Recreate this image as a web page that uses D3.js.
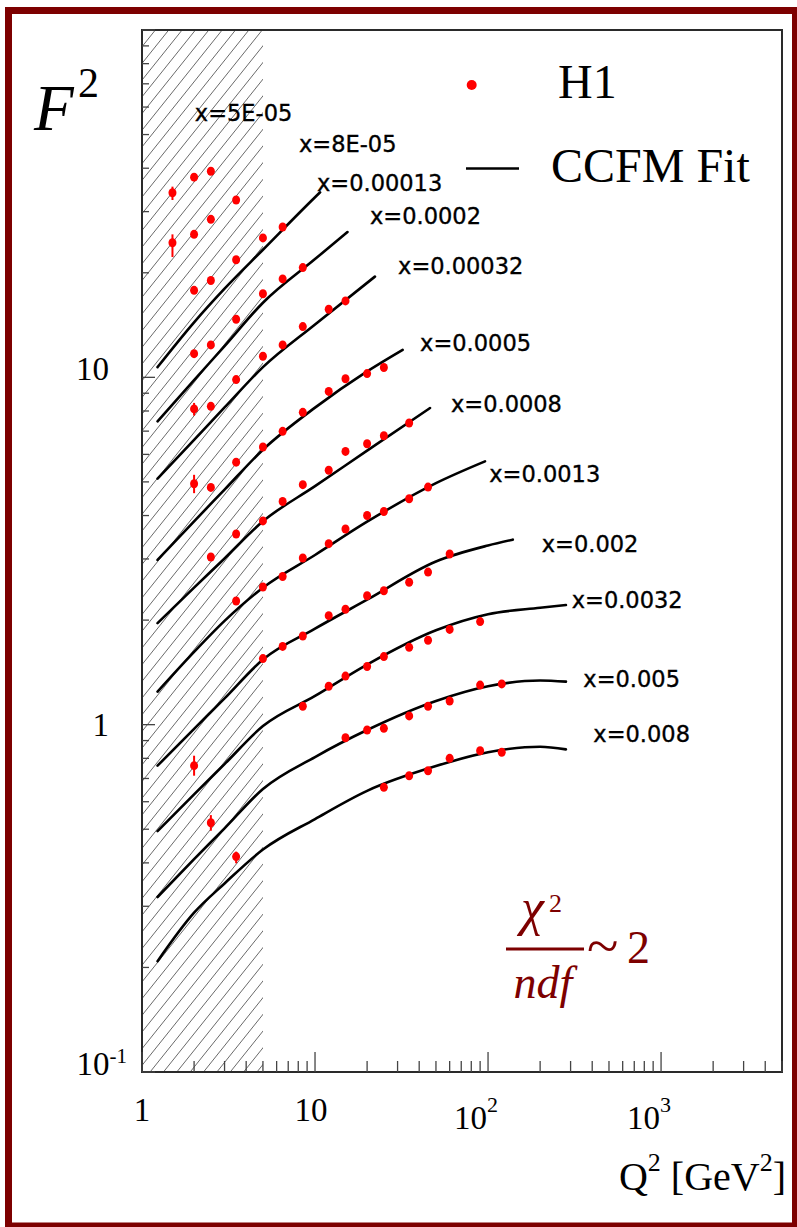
<!DOCTYPE html>
<html>
<head>
<meta charset="utf-8">
<script src="https://cdn.jsdelivr.net/npm/d3@7"></script>
<style>
    body { margin: 0; background: #ffffff; }
    svg { display: block; }
</style>
</head>
<body>
<div id="f2_graph"></div>
<script>

// H1 points, one array per x bin: [Q2, F2]
var h1_5E05 = [[1.5, 34.0], [2, 37.7], [2.5, 39.2]];
var h1_8E05 = [[1.5, 24.4], [2, 25.8], [2.5, 28.5], [3.5, 32.4]];
var h1_00013 = [[2, 17.8], [2.5, 19.0], [3.5, 21.8], [5, 25.2], [6.5, 27.1]];
var h1_0002 = [[2, 11.7], [2.5, 12.4], [3.5, 14.7], [5, 17.4], [6.5, 19.2], [8.5, 20.7]];
var h1_00032 = [[2, 8.11], [2.5, 8.25], [3.5, 9.85], [5, 11.5], [6.5, 12.4], [8.5, 14.0], [12, 15.7], [15, 16.6]];
var h1_0005 = [[2, 4.94], [2.5, 4.82], [3.5, 5.70], [5, 6.30], [6.5, 6.99], [8.5, 7.93], [12, 9.11], [15, 9.91], [20, 10.25], [25, 10.67]];
var h1_0008 = [[2.5, 3.04], [3.5, 3.54], [5, 3.86], [6.5, 4.39], [8.5, 4.91], [12, 5.40], [15, 6.12], [20, 6.44], [25, 6.79], [35, 7.39]];
var h1_0013 = [[3.5, 2.27], [5, 2.49], [6.5, 2.67], [8.5, 3.02], [12, 3.32], [15, 3.66], [20, 4.00], [25, 4.11], [35, 4.47], [45, 4.83]];
var h1_002 = [[5, 1.55], [6.5, 1.68], [8.5, 1.80], [12, 2.06], [15, 2.15], [20, 2.35], [25, 2.43], [35, 2.57], [45, 2.75], [60, 3.10]];
var h1_0032 = [[2, 0.762], [8.5, 1.13], [12, 1.29], [15, 1.38], [20, 1.47], [25, 1.57], [35, 1.67], [45, 1.75], [60, 1.88], [90, 1.98]];
var h1_005 = [[2.5, 0.522], [15, 0.917], [20, 0.965], [25, 0.976], [35, 1.06], [45, 1.13], [60, 1.17], [90, 1.30], [120, 1.31]];
var h1_008 = [[3.5, 0.417], [25, 0.660], [35, 0.713], [45, 0.737], [60, 0.800], [90, 0.841], [120, 0.833]];

// visible error bars: [Q2, low, high]
var h1_errors = [[1.5, 32.4, 35.4], [1.5, 22.2, 25.8], [2, 7.76, 8.44], [2, 4.64, 5.24],
                 [2, 0.713, 0.814], [2.5, 0.495, 0.549], [3.5, 0.399, 0.431]];

// CCFM fit curves: [Q2, F2]
var fit_00013 = [[1.23, 10.7], [2, 14.4], [3, 18.0], [5, 23.3], [10, 33.0], [10.7, 34.1]];
var fit_0002 = [[1.23, 7.47], [2, 9.82], [3, 12.3], [5, 16.4], [10, 21.9], [15.4, 26.2]];
var fit_00032 = [[1.23, 5.11], [2, 6.61], [3, 8.19], [5, 10.7], [10, 14.2], [22.2, 19.5]];
var fit_0005 = [[1.23, 2.98], [2, 3.85], [3, 4.75], [5, 6.19], [10, 8.18], [20, 10.4], [32.1, 12.0]];
var fit_0008 = [[1.23, 1.96], [2, 2.48], [3, 3.01], [5, 3.85], [10, 4.86], [20, 6.15], [46.2, 8.16]];
var fit_0013 = [[1.23, 1.245], [2, 1.62], [3, 1.99], [5, 2.48], [10, 3.08], [20, 3.84], [50, 4.96], [96, 5.73]];
var fit_002 = [[1.23, 0.762], [2, 0.973], [3, 1.19], [5, 1.54], [10, 1.89], [20, 2.29], [50, 2.95], [100, 3.28], [139, 3.41]];
var fit_0032 = [[1.23, 0.494], [2, 0.630], [3, 0.770], [5, 0.991], [10, 1.21], [20, 1.49], [50, 1.87], [100, 2.08], [200, 2.17], [282, 2.21]];
var fit_005 = [[1.23, 0.319], [2, 0.410], [3, 0.503], [5, 0.653], [10, 0.807], [20, 0.965], [50, 1.17], [100, 1.29], [200, 1.34], [282, 1.33]];
var fit_008 = [[1.23, 0.2085], [2, 0.2875], [3, 0.349], [5, 0.437], [10, 0.535], [20, 0.645], [50, 0.760], [100, 0.833], [200, 0.864], [282, 0.849]];

// x bin labels and where they sit (Q2, F2)
var binLabels = ["x=5E-05", "x=8E-05", "x=0.00013", "x=0.0002", "x=0.00032", "x=0.0005",
                 "x=0.0008", "x=0.0013", "x=0.002", "x=0.0032", "x=0.005", "x=0.008"];
var binLabelQ2 = [2.02, 8.08, 10.27, 20.8, 30.2, 40.5, 61.1, 101.7, 204.4, 304.6, 355.6, 406.2];
var binLabelF2 = [54.6, 44.4, 34.4, 27.7, 19.8, 11.9, 7.93, 4.98, 3.15, 2.17, 1.287, 0.893];

// axis tick labels
var xTickValues = [1, 10, 100, 1000];
var xTickBase = ["1", "10", "10", "10"];
var xTickSup = ["", "", "2", "3"];
var yTickValues = [0.1, 1, 10];
var yTickBase = ["10", "1", "10"];
var yTickSup = ["-1", "", ""];

var cutQ2 = 5; // fit range starts here, hatched below


var W = 797, H = 1227;
var serif = "'Liberation Serif', 'Times New Roman', serif";
var darkRed = "#7d0000";

var svg = d3.select("#f2_graph")
    .append("svg")
    .attr("width", W)
    .attr("height", H);

svg.append("rect")
    .attr("width", W)
    .attr("height", H)
    .attr("fill", "#ffffff");

// outer dark red frame
svg.append("rect")
    .attr("x", 8.5)
    .attr("y", 10.5)
    .attr("width", 787)
    .attr("height", 1215.5)
    .attr("fill", "none")
    .attr("stroke", darkRed)
    .attr("stroke-width", 7);

/**
 * Scales
 */
var xScale = d3.scaleLog().domain([1, 5000]).range([142, 782]);
var yScale = d3.scaleLog().domain([0.1, 100]).range([1072, 30]);

var x0 = xScale.range()[0], x1 = xScale.range()[1];
var yTop = yScale.range()[1], yBot = yScale.range()[0];

/**
 * Hatched region Q2 < 5
 */
svg.append("clipPath")
    .attr("id", "hatchClip")
    .append("rect")
    .attr("x", x0)
    .attr("y", yTop)
    .attr("width", xScale(cutQ2) - x0)
    .attr("height", yBot - yTop);

var hatch = svg.append("g").attr("clip-path", "url(#hatchClip)");
var slope = 1.25, step = 16.7 / slope;
var span = (yBot - yTop) / slope;
for (var hx = x0 - span; hx < xScale(cutQ2) + 5; hx += step) {
    hatch.append("line")
        .attr("x1", hx)
        .attr("y1", yBot)
        .attr("x2", hx + span)
        .attr("y2", yTop)
        .attr("stroke", "#6a6a6a")
        .attr("stroke-width", 1);
}

/**
 * Frame and ticks
 */
svg.append("rect")
    .attr("x", x0)
    .attr("y", yTop)
    .attr("width", x1 - x0)
    .attr("height", yBot - yTop)
    .attr("fill", "none")
    .attr("stroke", "#2a2a2a")
    .attr("stroke-width", 2);

function isMajor(v) {
    var l = Math.log10(v);
    return Math.abs(l - Math.round(l)) < 1e-6;
}

// y ticks point inward from the left edge
yScale.ticks().forEach(function (v) {
    svg.append("line")
        .attr("x1", x0)
        .attr("x2", x0 + (isMajor(v) ? 13 : 7))
        .attr("y1", yScale(v))
        .attr("y2", yScale(v))
        .attr("stroke", "#444")
        .attr("stroke-width", 1.3);
});

// x ticks point up from the bottom edge
xScale.ticks().forEach(function (v) {
    svg.append("line")
        .attr("x1", xScale(v))
        .attr("x2", xScale(v))
        .attr("y1", yBot)
        .attr("y2", yBot - (isMajor(v) ? 20 : 11))
        .attr("stroke", "#444")
        .attr("stroke-width", 1.3);
});

// x tick labels
xTickValues.forEach(function (v, i) {
    var hasSup = xTickSup[i] !== "";
    var shift = hasSup ? -12 : (v > 1 ? -4 : 0);
    var t = svg.append("text")
        .attr("x", xScale(v) + shift)
        .attr("y", yBot + (hasSup ? 57 : 49))
        .attr("text-anchor", "middle")
        .style("font-family", serif)
        .style("font-size", "33px")
        .text(xTickBase[i]);
    if (hasSup) {
        t.append("tspan")
            .attr("dy", -17)
            .style("font-size", "22px")
            .text(xTickSup[i]);
    }
});

// y tick labels
yTickValues.forEach(function (v, i) {
    var hasSup = yTickSup[i] !== "";
    var t = svg.append("text")
        .attr("x", hasSup ? 127 : 109)
        .attr("y", yScale(v) + (v === 1 ? 11 : 3))
        .attr("text-anchor", "end")
        .style("font-family", serif)
        .style("font-size", "33px")
        .text(yTickBase[i]);
    if (hasSup) {
        t.append("tspan")
            .attr("dy", -12)
            .style("font-size", "21px")
            .text(yTickSup[i]);
    }
});

/**
 * Fit curves
 */
var fitCurves = [fit_00013, fit_0002, fit_00032, fit_0005, fit_0008,
                 fit_0013, fit_002, fit_0032, fit_005, fit_008];

var fitLine = d3.line()
    .x(function (d) { return xScale(d[0]); })
    .y(function (d) { return yScale(d[1]); })
    .curve(d3.curveMonotoneX);

svg.selectAll("path.fit")
    .data(fitCurves)
    .enter()
    .append("path")
    .attr("class", "fit")
    .attr("d", fitLine)
    .attr("fill", "none")
    .attr("stroke", "#000")
    .attr("stroke-width", 2.6)
    .attr("stroke-linecap", "round");

/**
 * H1 data points
 */
var h1Sets = [h1_5E05, h1_8E05, h1_00013, h1_0002, h1_00032, h1_0005,
              h1_0008, h1_0013, h1_002, h1_0032, h1_005, h1_008];
var allPoints = [];
h1Sets.forEach(function (s) { s.forEach(function (p) { allPoints.push(p); }); });

svg.selectAll("line.err")
    .data(h1_errors)
    .enter()
    .append("line")
    .attr("class", "err")
    .attr("x1", function (d) { return xScale(d[0]); })
    .attr("x2", function (d) { return xScale(d[0]); })
    .attr("y1", function (d) { return yScale(d[1]); })
    .attr("y2", function (d) { return yScale(d[2]); })
    .attr("stroke", "#ff0000")
    .attr("stroke-width", 2);

svg.selectAll("ellipse.pt")
    .data(allPoints)
    .enter()
    .append("ellipse")
    .attr("class", "pt")
    .attr("cx", function (d) { return xScale(d[0]); })
    .attr("cy", function (d) { return yScale(d[1]); })
    .attr("rx", 4)
    .attr("ry", 4.5)
    .attr("fill", "#ff0000");

/**
 * x bin labels
 */
binLabels.forEach(function (lab, i) {
    svg.append("text")
        .attr("x", xScale(binLabelQ2[i]))
        .attr("y", yScale(binLabelF2[i]))
        .style("font-family", "'DejaVu Sans', sans-serif")
        .style("font-size", "22.5px")
        .attr("stroke", "#000")
        .attr("stroke-width", 0.35)
        .text(lab);
});

/**
 * Legend
 */
svg.append("circle")
    .attr("cx", 471.7)
    .attr("cy", 85)
    .attr("r", 5)
    .attr("fill", "#ff0000");

svg.append("text")
    .attr("x", 558)
    .attr("y", 98)
    .style("font-family", serif)
    .style("font-size", "48px")
    .text("H1");

svg.append("line")
    .attr("x1", 466)
    .attr("x2", 519)
    .attr("y1", 168.5)
    .attr("y2", 168.5)
    .attr("stroke", "#000")
    .attr("stroke-width", 2.5);

svg.append("text")
    .attr("x", 551)
    .attr("y", 182)
    .style("font-family", serif)
    .style("font-size", "48px")
    .text("CCFM Fit");

/**
 * Axis titles
 */
var yTitle = svg.append("text")
    .attr("x", 34)
    .attr("y", 130)
    .style("font-family", serif)
    .style("font-size", "65px");
yTitle.append("tspan").style("font-style", "italic").text("F");
yTitle.append("tspan")
    .attr("x", 78)
    .attr("y", 97)
    .style("font-size", "42px")
    .text("2");

var xTitle = svg.append("text")
    .attr("x", 786)
    .attr("y", 1190)
    .attr("text-anchor", "end")
    .style("font-family", serif)
    .style("font-size", "40px");
xTitle.append("tspan").text("Q");
xTitle.append("tspan").attr("dy", -19).style("font-size", "26px").text("2");
xTitle.append("tspan").attr("dy", 19).text(" [GeV");
xTitle.append("tspan").attr("dy", -19).style("font-size", "26px").text("2");
xTitle.append("tspan").attr("dy", 19).text("]");

/**
 * chi2 / ndf note
 */
var note = svg.append("g")
    .style("font-family", serif)
    .attr("fill", darkRed);

note.append("text")
    .attr("x", 521)
    .attr("y", 925)
    .style("font-size", "52px")
    .style("font-style", "italic")
    .text("χ");
note.append("text")
    .attr("x", 549)
    .attr("y", 912)
    .style("font-size", "26px")
    .text("2");
note.append("line")
    .attr("x1", 506)
    .attr("x2", 584)
    .attr("y1", 949)
    .attr("y2", 949)
    .attr("stroke", darkRed)
    .attr("stroke-width", 3);
note.append("text")
    .attr("x", 543)
    .attr("y", 998)
    .attr("text-anchor", "middle")
    .style("font-size", "46px")
    .style("font-style", "italic")
    .text("ndf");
note.append("text")
    .attr("x", 587)
    .attr("y", 965)
    .style("font-size", "58px")
    .text("~");
note.append("text")
    .attr("x", 627)
    .attr("y", 963)
    .style("font-size", "46px")
    .text("2");

</script>
</body>
</html>
